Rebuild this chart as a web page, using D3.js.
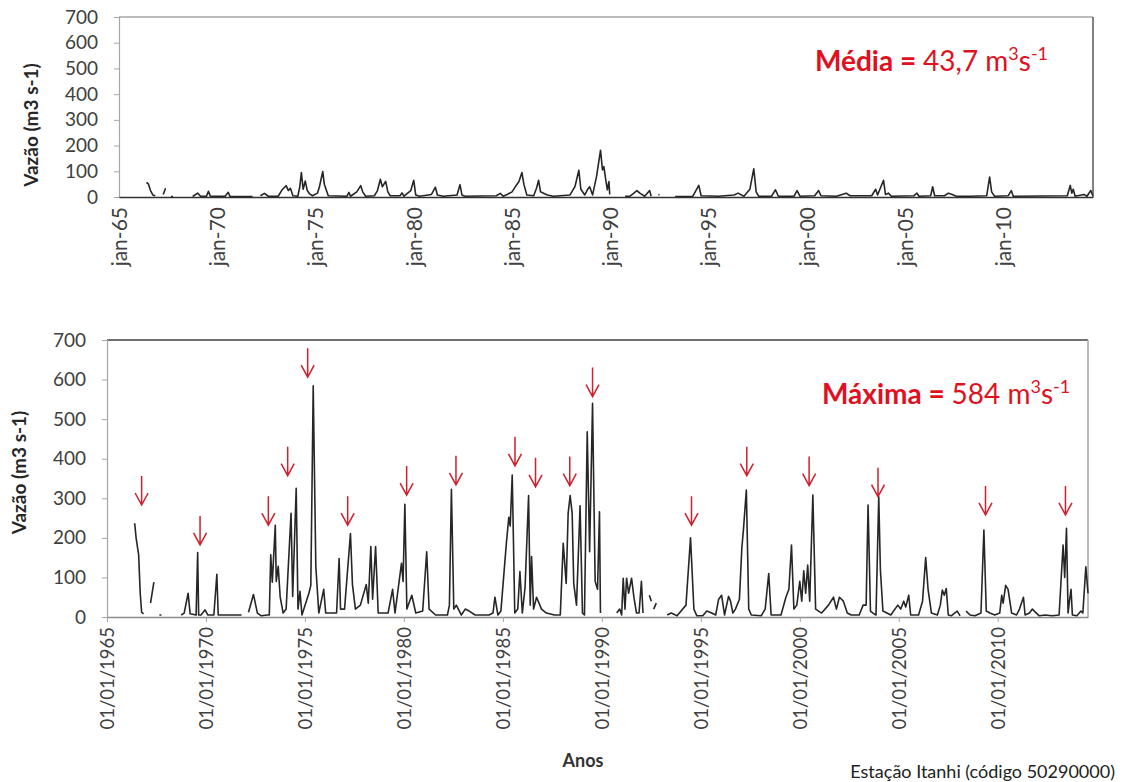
<!DOCTYPE html>
<html>
<head>
<meta charset="utf-8">
<script src="https://cdn.jsdelivr.net/npm/d3@7/dist/d3.min.js"></script>
<style>
    body { margin: 0; background: #fff; }
    svg { display: block; }
    text { font-family: Lato, 'Open Sans', sans-serif; }
</style>
</head>
<body>
<svg id="chart" width="1122" height="782"></svg>
<script>
const startYear = 1965;
const endYear = 2014.56;
const yTicks = [0, 100, 200, 300, 400, 500, 600, 700];
const tickYears = [1965, 1970, 1975, 1980, 1985, 1990, 1995, 2000, 2005, 2010];

// vazao media mensal (ano decimal, m3/s), null = falha
const meanSeries = [
    [1966.40, 57], [1966.5, 50], [1966.6, 26], [1966.72, 8], [1966.85, 5], null,
    [1967.25, 10], [1967.37, 34], null,
    [1967.65, 2], [1967.75, 2], null,
    [1968.75, 2], [1969.0, 15], [1969.15, 3], [1969.45, 3], [1969.55, 22], [1969.65, 3],
    [1970.4, 3], [1970.56, 18], [1970.65, 2], [1971.8, 2], null,
    [1972.2, 5], [1972.4, 14], [1972.6, 3], [1973.1, 3], [1973.3, 28], [1973.5, 44], [1973.62, 25],
    [1973.72, 34], [1973.85, 5], [1974.1, 3], [1974.2, 40], [1974.28, 95], [1974.37, 30], [1974.48, 62],
    [1974.58, 25], [1974.7, 12], [1974.85, 5], [1975.1, 15], [1975.2, 40], [1975.37, 99], [1975.45, 50],
    [1975.65, 5], [1976.6, 3], [1976.7, 18], [1976.78, 3], [1977.1, 20], [1977.3, 44], [1977.4, 20],
    [1977.55, 3], [1978.0, 5], [1978.15, 25], [1978.3, 69], [1978.4, 40], [1978.57, 61], [1978.68, 20],
    [1978.8, 5], [1979.3, 5], [1979.4, 16], [1979.5, 3], [1979.85, 25], [1980.0, 65], [1980.1, 8],
    [1980.3, 3], [1980.9, 10], [1981.1, 38], [1981.2, 8], [1981.5, 3], [1982.2, 8], [1982.35, 48],
    [1982.45, 8], [1982.6, 3], [1984.2, 5], [1984.4, 14], [1984.55, 3], [1984.75, 10], [1985.0, 20],
    [1985.2, 44], [1985.35, 60], [1985.5, 95], [1985.6, 50], [1985.75, 8], [1986.1, 5], [1986.25, 35],
    [1986.35, 65], [1986.45, 20], [1986.6, 15], [1986.8, 8], [1987.1, 3], [1987.95, 8], [1988.2, 40],
    [1988.4, 104], [1988.5, 30], [1988.7, 8], [1988.85, 30], [1988.95, 40], [1989.1, 8], [1989.3, 80],
    [1989.5, 182], [1989.6, 105], [1989.67, 118], [1989.78, 60], [1989.85, 28], [1989.93, 60], [1989.97, 10], null,
    [1990.75, 3], [1991.0, 3], [1991.2, 15], [1991.35, 25], [1991.5, 15], [1991.75, 3], [1992.0, 25], [1992.08, 3], null,
    [1992.45, 10], [1992.5, 8], null,
    [1993.3, 2], [1994.2, 3], [1994.5, 45], [1994.62, 5], [1995.5, 3], [1996.3, 8], [1996.5, 15],
    [1996.8, 3], [1997.1, 30], [1997.3, 110], [1997.42, 20], [1997.55, 3], [1998.2, 3], [1998.4, 28],
    [1998.55, 3], [1999.35, 3], [1999.5, 25], [1999.65, 3], [2000.4, 5], [2000.6, 25], [2000.72, 5],
    [2001.5, 3], [2002.0, 15], [2002.2, 5], [2003.3, 5], [2003.5, 30], [2003.6, 8], [2003.9, 65],
    [2004.0, 10], [2004.15, 15], [2004.3, 3], [2005.45, 5], [2005.6, 15], [2005.7, 3], [2006.3, 5],
    [2006.4, 40], [2006.5, 5], [2007.0, 5], [2007.2, 15], [2007.4, 10], [2007.6, 3], [2008.3, 3],
    [2009.15, 5], [2009.3, 78], [2009.4, 20], [2009.55, 3], [2010.25, 5], [2010.4, 25], [2010.5, 3],
    [2013.25, 5], [2013.4, 45], [2013.48, 15], [2013.55, 30], [2013.65, 3], [2014.1, 10], [2014.25, 3],
    [2014.45, 25], [2014.55, 5]
];

// vazao maxima mensal (ano decimal, m3/s), null = falha
const maxSeries = [
    [1966.40, 237], [1966.47, 200], [1966.6, 157], [1966.68, 60], [1966.75, 12], [1966.85, 8], null,
    [1967.2, 35], [1967.37, 88], null,
    [1967.65, 5], [1967.75, 5], null,
    [1968.75, 5], [1968.9, 10], [1969.1, 60], [1969.2, 8], [1969.5, 5], [1969.58, 163], [1969.63, 5],
    [1969.75, 5], [1969.95, 18], [1970.1, 5], [1970.4, 5], [1970.55, 108], [1970.62, 5], [1971.8, 5], null,
    [1972.15, 12], [1972.4, 57], [1972.6, 10], [1972.8, 3], [1973.1, 5], [1973.2, 5], [1973.27, 157],
    [1973.35, 88], [1973.5, 232], [1973.55, 90], [1973.65, 128], [1973.75, 50], [1973.9, 10], [1974.05, 20],
    [1974.3, 262], [1974.38, 52], [1974.56, 325], [1974.65, 20], [1974.75, 65], [1974.85, 5], [1975.2, 60],
    [1975.3, 80], [1975.42, 584], [1975.55, 128], [1975.7, 10], [1975.95, 70], [1976.05, 10], [1976.6, 10],
    [1976.73, 148], [1976.8, 20], [1977.0, 20], [1977.3, 211], [1977.4, 82], [1977.55, 20], [1977.8, 30],
    [1978.1, 82], [1978.2, 35], [1978.33, 178], [1978.42, 45], [1978.57, 178], [1978.7, 10], [1979.2, 10],
    [1979.43, 70], [1979.55, 10], [1979.88, 136], [1979.96, 90], [1980.05, 285], [1980.15, 20], [1980.4, 55],
    [1980.6, 10], [1980.95, 15], [1981.15, 165], [1981.27, 20], [1981.6, 5], [1982.2, 5], [1982.3, 30],
    [1982.4, 323], [1982.52, 20], [1982.65, 30], [1982.9, 5], [1983.1, 20], [1983.3, 15], [1983.6, 5],
    [1984.3, 5], [1984.5, 10], [1984.6, 50], [1984.75, 5], [1984.9, 15], [1985.18, 190], [1985.3, 252],
    [1985.37, 230], [1985.47, 359], [1985.6, 10], [1985.75, 20], [1985.86, 115], [1985.98, 10], [1986.12, 75],
    [1986.3, 307], [1986.38, 30], [1986.45, 153], [1986.55, 20], [1986.7, 50], [1986.95, 20], [1987.2, 10],
    [1987.6, 5], [1987.9, 5], [1988.05, 186], [1988.2, 85], [1988.3, 262], [1988.4, 307], [1988.5, 262],
    [1988.58, 85], [1988.72, 30], [1988.9, 281], [1989.02, 10], [1989.12, 5], [1989.26, 468], [1989.38, 165],
    [1989.53, 540], [1989.66, 90], [1989.78, 70], [1989.88, 266], [1989.93, 10], null,
    [1990.75, 10], [1990.9, 20], [1991.0, 5], [1991.08, 98], [1991.17, 20], [1991.25, 98], [1991.35, 60],
    [1991.5, 98], [1991.62, 50], [1991.75, 10], [1991.88, 10], [1992.0, 90], [1992.08, 10], null,
    [1992.4, 55], [1992.5, 40], null,
    [1992.62, 20], [1992.75, 35], null,
    [1993.3, 5], [1993.5, 10], [1993.8, 3], [1994.25, 30], [1994.48, 200], [1994.65, 20], [1994.8, 3],
    [1995.1, 3], [1995.3, 15], [1995.55, 10], [1995.75, 5], [1995.9, 45], [1996.05, 55], [1996.2, 5],
    [1996.4, 52], [1996.5, 40], [1996.62, 10], [1996.75, 20], [1996.95, 45], [1997.07, 175], [1997.15, 220],
    [1997.3, 321], [1997.42, 20], [1997.55, 5], [1998.05, 3], [1998.25, 20], [1998.43, 110], [1998.55, 5],
    [1999.05, 5], [1999.3, 50], [1999.45, 70], [1999.58, 182], [1999.7, 20], [1999.85, 30], [2000.0, 90],
    [2000.1, 40], [2000.2, 117], [2000.3, 60], [2000.4, 131], [2000.5, 40], [2000.66, 308], [2000.8, 20],
    [2001.1, 10], [2001.45, 30], [2001.7, 50], [2001.85, 20], [2002.0, 50], [2002.2, 40], [2002.4, 10],
    [2002.6, 5], [2003.0, 5], [2003.2, 30], [2003.35, 30], [2003.45, 283], [2003.57, 15], [2003.7, 10],
    [2003.85, 5], [2003.99, 304], [2004.07, 120], [2004.2, 15], [2004.6, 5], [2004.95, 30], [2005.1, 20],
    [2005.25, 40], [2005.35, 25], [2005.5, 55], [2005.6, 5], [2006.0, 5], [2006.2, 40], [2006.36, 150],
    [2006.48, 70], [2006.65, 10], [2006.95, 5], [2007.1, 30], [2007.2, 68], [2007.3, 55], [2007.4, 72],
    [2007.5, 5], [2007.65, 3], [2007.95, 15], [2008.1, 3], null,
    [2008.4, 15], [2008.6, 5], [2008.85, 3], [2009.15, 10], [2009.3, 220], [2009.42, 15], [2009.6, 10],
    [2009.85, 5], [2010.1, 10], [2010.2, 55], [2010.27, 35], [2010.4, 80], [2010.52, 70], [2010.7, 10],
    [2010.95, 5], [2011.1, 20], [2011.3, 50], [2011.38, 5], [2011.6, 10], [2011.75, 20], [2011.85, 15],
    [2012.1, 3], [2012.4, 5], [2012.75, 3], [2013.1, 5], [2013.3, 182], [2013.38, 100], [2013.47, 224],
    [2013.55, 10], [2013.62, 40], [2013.7, 70], [2013.77, 5], [2014.0, 3], [2014.2, 15], [2014.3, 10],
    [2014.45, 127], [2014.56, 60]
];

// setas: ano decimal e valor da ponta
const arrowMarks = [
    [1966.75, 283], [1969.7, 182], [1973.15, 232], [1974.13, 357], [1975.14, 606], [1977.16, 232],
    [1980.14, 308], [1982.63, 334], [1985.61, 382], [1986.65, 329], [1988.38, 332], [1989.53, 557],
    [1994.53, 232], [1997.32, 357], [2000.47, 332], [2003.95, 304], [2009.38, 258], [2013.42, 258]
];

const red = '#e0101e';

function toDate(t) {
    const yr = Math.floor(t);
    return new Date(yr, 0, 1 + Math.round((t - yr) * 365));
}

const svg = d3.select('#chart');

function drawPanel(cfg) {
    const x = d3.scaleTime()
        .domain([toDate(startYear), toDate(endYear)])
        .range([cfg.left, cfg.right]);
    const y = d3.scaleLinear().domain([0, 700]).range([cfg.bottom, cfg.top]);
    const g = svg.append('g');

    g.append('line')
        .attr('x1', cfg.left).attr('x2', cfg.right)
        .attr('y1', cfg.top).attr('y2', cfg.top)
        .attr('stroke', cfg.topColor).attr('stroke-width', 1.5);
    g.append('line')
        .attr('x1', cfg.right).attr('x2', cfg.right)
        .attr('y1', cfg.top).attr('y2', cfg.bottom)
        .attr('stroke', cfg.rightColor).attr('stroke-width', 1.5);

    g.append('g')
        .attr('transform', `translate(${cfg.left},0)`)
        .call(d3.axisLeft(y).tickValues(yTicks).tickSize(5).tickPadding(16))
        .call(a => a.select('.domain').attr('stroke', '#a6a6a6').attr('stroke-width', 1.2))
        .call(a => a.selectAll('.tick line').attr('stroke', '#a6a6a6'))
        .call(a => a.selectAll('.tick text')
            .attr('font-size', 19).attr('fill', '#404040')
            .attr('font-family', 'Lato, sans-serif'));

    g.append('g')
        .attr('transform', `translate(0,${cfg.bottom})`)
        .call(d3.axisBottom(x)
            .tickValues(tickYears.map(yr => new Date(yr, 0, 1)))
            .tickFormat(d3.timeFormat(cfg.tickFormat))
            .tickSize(cfg.tickLen).tickSizeOuter(0))
        .call(a => a.select('.domain').attr('stroke', cfg.axisColor).attr('stroke-width', 1.6))
        .call(a => a.selectAll('.tick line').attr('stroke', '#a6a6a6'))
        .call(a => a.selectAll('.tick text')
            .attr('transform', 'rotate(-90)')
            .attr('text-anchor', 'end')
            .attr('x', -cfg.labelGap).attr('y', 0).attr('dy', '0.35em')
            .attr('font-size', cfg.tickFont).attr('fill', '#404040')
            .attr('font-family', cfg.tickFamily));

    const line = d3.line()
        .defined(d => d !== null)
        .x(d => x(toDate(d[0])))
        .y(d => y(d[1]));

    g.append('path')
        .datum(cfg.series)
        .attr('d', line)
        .attr('fill', 'none')
        .attr('stroke', '#262626')
        .attr('stroke-width', 1.6)
        .attr('stroke-linejoin', 'round');

    g.append('text')
        .attr('transform', `translate(${cfg.labelX},${(cfg.top + cfg.bottom) / 2 + cfg.labelShift}) rotate(-90)`)
        .attr('text-anchor', 'middle')
        .attr('font-size', 19).attr('font-weight', 'bold').attr('fill', '#262626')
        .text('Vazão (m3 s-1)');

    const note = g.append('text')
        .attr('x', cfg.noteX).attr('y', cfg.noteY)
        .attr('font-size', 28).attr('fill', red);
    note.append('tspan').attr('font-weight', 'bold').text(cfg.noteLabel + ' = ');
    note.append('tspan').text(cfg.noteValue + ' m');
    note.append('tspan').attr('font-size', 18).attr('dy', -11).text('3');
    note.append('tspan').attr('dy', 11).text('s');
    note.append('tspan').attr('font-size', 18).attr('dy', -11).text('-1');

    return { x, y, g };
}

drawPanel({
    left: 119, right: 1093, top: 17, bottom: 197,
    topColor: '#a6a6a6', rightColor: '#595959', axisColor: '#333',
    tickFormat: 'jan-%y', tickLen: 0, labelGap: 10, tickFont: 21, tickFamily: 'Lato, sans-serif',
    series: meanSeries, labelX: 38, labelShift: 18,
    noteLabel: 'Média', noteValue: '43,7', noteX: 815, noteY: 71
});

const bottom = drawPanel({
    left: 107, right: 1088, top: 340, bottom: 617,
    topColor: '#404040', rightColor: '#a6a6a6', axisColor: '#8c8c8c',
    tickFormat: '01/01/%Y', tickLen: 5, labelGap: 10, tickFont: 18.5, tickFamily: "'DejaVu Sans', sans-serif",
    series: maxSeries, labelX: 26, labelShift: -6,
    noteLabel: 'Máxima', noteValue: '584', noteX: 822, noteY: 404
});

bottom.g.append('g')
    .selectAll('path')
    .data(arrowMarks)
    .enter().append('path')
    .attr('d', d => {
        const ax = bottom.x(toDate(d[0]));
        const ay = bottom.y(d[1]);
        return `M${ax},${ay - 29}V${ay}M${ax - 6.5},${ay - 12}L${ax},${ay}L${ax + 6.5},${ay - 12}`;
    })
    .attr('fill', 'none')
    .attr('stroke', '#d0202e')
    .attr('stroke-width', 1.5);

svg.append('text')
    .attr('x', 583).attr('y', 767)
    .attr('text-anchor', 'middle')
    .attr('font-size', 18).attr('font-weight', 'bold').attr('fill', '#333')
    .text('Anos');

svg.append('text')
    .attr('x', 1115).attr('y', 778)
    .attr('text-anchor', 'end')
    .attr('font-size', 18).attr('fill', '#222')
    .text('Estação Itanhi (código 50290000)');
</script>
</body>
</html>
